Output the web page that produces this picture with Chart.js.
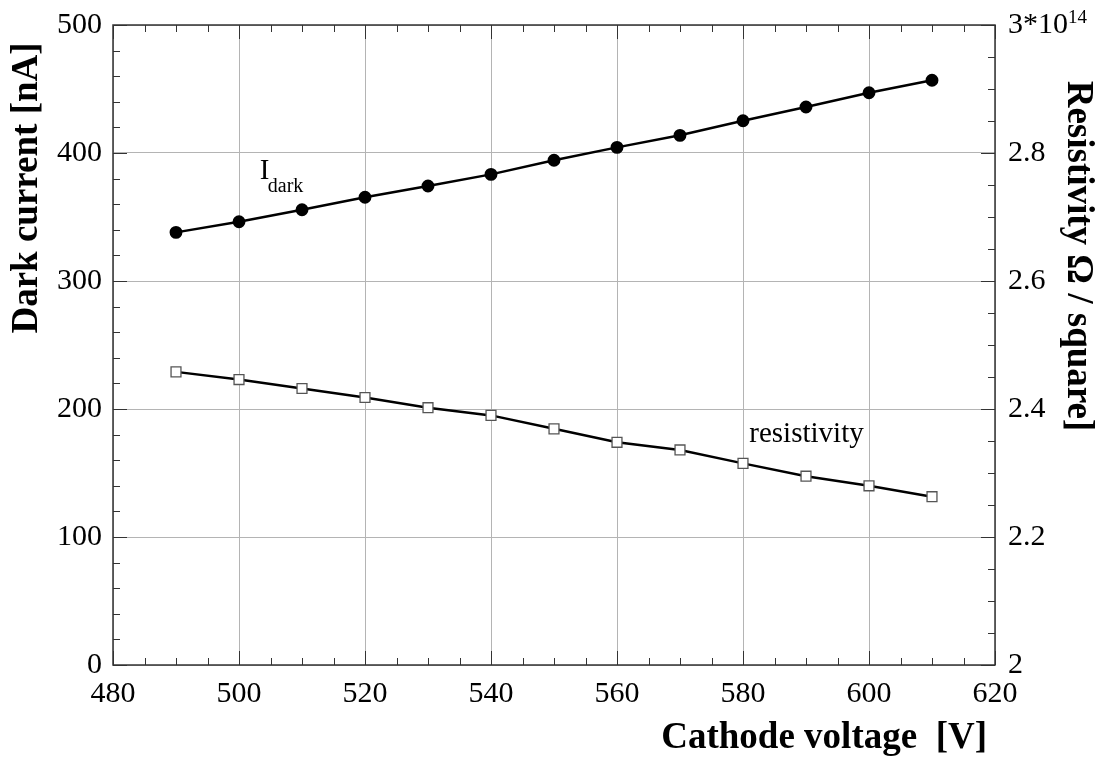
<!DOCTYPE html>
<html>
<head>
<meta charset="utf-8">
<script src="https://cdn.jsdelivr.net/npm/chart.js@4/dist/chart.umd.min.js"></script>
<style>
  html, body { margin: 0; padding: 0; background: #fff; }
  #wrap { width: 1106px; height: 762px; position: relative; }
</style>
</head>
<body>
<div id="wrap"><canvas id="chart"></canvas></div>
<script>
/* ── data ───────────────────────────────────────────────────── */
const VOLTAGE      = [490, 500, 510, 520, 530, 540, 550, 560, 570, 580, 590, 600, 610];
const DARK_CURRENT = [338.0, 346.3, 355.7, 365.4, 374.2, 383.3, 394.3, 404.4, 413.8, 425.2, 435.9, 447.1, 456.8];
const RESISTIVITY  = [2.458, 2.446, 2.432, 2.418, 2.402, 2.390, 2.369, 2.348, 2.336, 2.315, 2.295, 2.280, 2.263]; // x 10^14

const X_RANGE  = [480, 620];
const Y_RANGE  = [0, 500];
const Y2_RANGE = [2, 3];
const X_STEP = 20,  X_MINOR = 5;
const Y_STEP = 100, Y_MINOR = 20;
const Y2_STEP = 0.2, Y2_MINOR = 0.05;

const SERIF = '"Liberation Serif", "Times New Roman", serif';
const TICK_FONT = { family: SERIF, size: 30 };

/* fixed box sizes so the plot area lands where the reference has it */
const fixBox = (w, h) => s => {
    if (w != null) s.width = w;
    if (h != null) s.height = h;
    s.paddingTop = s.paddingBottom = s.paddingLeft = s.paddingRight = 0;
};

/* ── frame, inward ticks, titles, labels ────────────────────── */
const framePlugin = {
    id: 'frame',
    afterDatasetsDraw(chart) {
        const { ctx, chartArea: a, scales } = chart;
        const x = scales.x, y = scales.y, y2 = scales.y2;
        ctx.save();
        ctx.strokeStyle = '#333';
        ctx.lineWidth = 1;

        const tick = (x0, y0, x1, y1) => {
            ctx.beginPath(); ctx.moveTo(x0, y0); ctx.lineTo(x1, y1); ctx.stroke();
        };
        const near = (v, step) => Math.abs(v / step - Math.round(v / step)) < 1e-6;

        for (let v = X_RANGE[0]; v <= X_RANGE[1] + 1e-9; v += X_MINOR) {
            const px = Math.round(x.getPixelForValue(v)) + 0.5;
            const len = near(v, X_STEP) ? 14 : 7;
            tick(px, a.bottom, px, a.bottom - len);
            tick(px, a.top, px, a.top + len);
        }
        for (let v = Y_RANGE[0]; v <= Y_RANGE[1] + 1e-9; v += Y_MINOR) {
            const py = Math.round(y.getPixelForValue(v)) + 0.5;
            tick(a.left, py, a.left + (near(v, Y_STEP) ? 14 : 7), py);
        }
        for (let i = 0; i <= Math.round((Y2_RANGE[1] - Y2_RANGE[0]) / Y2_MINOR); i++) {
            const v = Y2_RANGE[0] + i * Y2_MINOR;
            const py = Math.round(y2.getPixelForValue(v)) + 0.5;
            tick(a.right, py, a.right - (i % 4 === 0 ? 14 : 7), py);
        }

        ctx.lineWidth = 1.5;
        ctx.strokeRect(a.left, a.top, a.right - a.left, a.bottom - a.top);
        ctx.restore();
    },
    afterDraw(chart) {
        const { ctx, chartArea: a, scales } = chart;
        ctx.save();
        ctx.fillStyle = '#000';
        ctx.textBaseline = 'alphabetic';

        /* axis titles */
        ctx.font = `bold 37px ${SERIF}`;
        ctx.textAlign = 'right';
        ctx.fillText('Cathode voltage  [V]', 987, 748);

        ctx.textAlign = 'center';
        ctx.save();
        ctx.translate(37, 188);
        ctx.rotate(-Math.PI / 2);
        ctx.fillText('Dark current [nA]', 0, 0);
        ctx.restore();

        ctx.save();
        ctx.translate(1068, 256);
        ctx.rotate(Math.PI / 2);
        ctx.fillText('Resistivity Ω / square]', 0, 0);
        ctx.restore();

        /* exponent on the top right tick label */
        ctx.textAlign = 'left';
        ctx.font = `30px ${SERIF}`;
        const baseW = ctx.measureText('3*10').width;
        ctx.font = `19px ${SERIF}`;
        ctx.fillText('14', a.right + 13 + baseW, a.top - 2);

        /* series labels */
        const ix = scales.x.getPixelForValue(503.3), iy = scales.y.getPixelForValue(380);
        ctx.font = `29px ${SERIF}`;
        ctx.fillText('I', ix, iy);
        ctx.font = `20px ${SERIF}`;
        ctx.fillText('dark', ix + 8, iy + 13);

        ctx.font = `29px ${SERIF}`;
        ctx.fillText('resistivity', scales.x.getPixelForValue(581), scales.y2.getPixelForValue(2.348));
        ctx.restore();
    },
};

/* ── chart ──────────────────────────────────────────────────── */
new Chart(document.getElementById('chart'), {
    type: 'line',
    data: {
        datasets: [
            {
                label: 'I dark',
                data: VOLTAGE.map((v, i) => ({ x: v, y: DARK_CURRENT[i] })),
                yAxisID: 'y',
                borderColor: '#000',
                borderWidth: 2.5,
                pointStyle: 'circle',
                pointRadius: 5.2,
                pointBackgroundColor: '#000',
                pointBorderColor: '#000',
                tension: 0,
            },
            {
                label: 'resistivity',
                data: VOLTAGE.map((v, i) => ({ x: v, y: RESISTIVITY[i] })),
                yAxisID: 'y2',
                borderColor: '#000',
                borderWidth: 2.5,
                pointStyle: 'rect',
                pointRadius: 7,
                pointBackgroundColor: '#fff',
                pointBorderColor: '#555',
                pointBorderWidth: 1.3,
                tension: 0,
            },
        ],
    },
    options: {
        responsive: true,
        maintainAspectRatio: false,
        animation: false,
        events: [],
        layout: { padding: { top: 25, left: 0, right: 0, bottom: 0 } },
        plugins: { legend: { display: false }, tooltip: { enabled: false } },
        scales: {
            x: {
                type: 'linear',
                min: X_RANGE[0], max: X_RANGE[1],
                afterFit: fixBox(null, 97),
                border: { display: false },
                grid: { color: '#b4b4b4', lineWidth: 1, drawTicks: false },
                ticks: { stepSize: X_STEP, color: '#000', font: TICK_FONT, padding: 11, maxRotation: 0 },
            },
            y: {
                position: 'left',
                min: Y_RANGE[0], max: Y_RANGE[1],
                afterFit: fixBox(113, null),
                border: { display: false },
                grid: { color: '#b4b4b4', lineWidth: 1, drawTicks: false },
                ticks: { stepSize: Y_STEP, color: '#000', font: TICK_FONT, padding: 11 },
            },
            y2: {
                position: 'right',
                min: Y2_RANGE[0], max: Y2_RANGE[1],
                afterFit: fixBox(111, null),
                border: { display: false },
                grid: { display: false, drawTicks: false },
                ticks: {
                    stepSize: Y2_STEP, color: '#000', font: TICK_FONT, padding: 13,
                    callback: v => (Math.abs(v - 3) < 1e-9 ? '3*10' : String(+v.toFixed(1))),
                },
            },
        },
    },
    plugins: [framePlugin],
});
</script>
</body>
</html>
